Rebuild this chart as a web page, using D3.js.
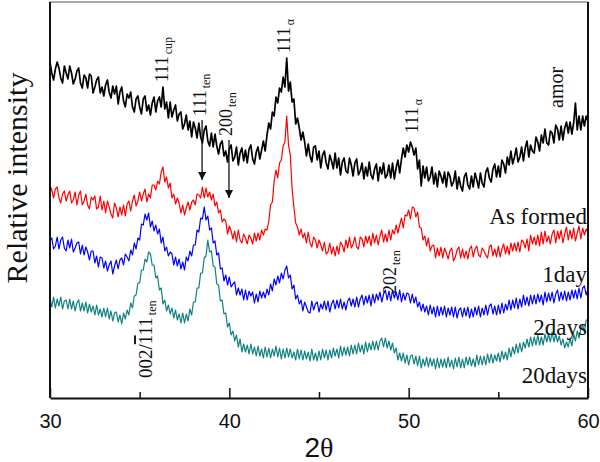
<!DOCTYPE html>
<html><head><meta charset="utf-8">
<script src="https://cdn.jsdelivr.net/npm/d3@7/dist/d3.min.js"></script>
<style>body{margin:0;background:#fff}</style>
</head><body><svg id="c" width="600" height="462"></svg>
<script>
// 2θ sampling of every pattern
const thetaStart = 30, thetaStep = 0.1;
const xTicks = [30, 40, 50, 60];
const xMinorTicks = [35, 45, 55];
const seriesNames = ["As formed", "1day", "2days", "20days"];

// relative intensities (stacked, arbitrary units)
const asFormed = [
336,325,318,329,336,330,320,315,332,325,
319,332,325,314,319,327,330,315,310,323,
320,310,324,322,305,311,318,321,305,311,
302,313,318,306,300,312,304,312,294,306,
311,297,291,304,300,306,291,286,299,302,
291,284,299,302,287,293,283,295,301,286,
297,301,291,311,289,296,280,296,281,288,
293,277,284,286,269,274,283,268,277,261,
276,270,260,275,261,255,268,272,257,252,
265,251,264,252,244,254,257,242,247,236,
249,253,237,241,251,233,245,250,237,248,
235,249,253,239,234,246,251,239,248,257,
247,263,275,269,286,282,301,295,310,306,
321,311,340,307,316,296,299,274,280,270,
258,266,256,242,254,242,236,251,252,238,
247,230,243,247,235,229,243,237,229,245,
230,240,223,236,240,227,225,240,233,222,
235,239,223,227,235,219,231,222,236,223,
219,229,234,217,231,224,235,220,223,233,
220,235,219,230,238,225,239,250,241,253,
246,256,251,243,250,229,238,212,232,220,
231,217,221,231,214,225,211,227,222,215,
226,211,226,222,212,216,227,209,221,212,
207,221,225,213,209,222,211,225,218,210,
225,215,211,226,230,220,216,229,234,221,
232,221,238,234,225,241,233,247,234,241,
250,236,241,251,237,250,257,241,253,247,
245,261,256,247,263,255,269,255,253,267,
265,255,273,269,258,272,258,270,276,265,
276,264,275,295,268,282,268,282,272,282,277];

const day1 = [
213,208,200,209,211,200,195,204,207,197,
203,207,195,198,206,193,203,207,193,197,
204,193,189,201,198,202,189,191,202,188,
197,185,197,191,184,180,195,190,181,191,
183,193,182,194,197,187,197,203,192,197,
206,197,204,209,196,204,200,213,213,208,
217,214,226,231,216,221,210,215,200,204,
194,200,195,185,193,183,190,196,188,196,
198,193,204,203,200,211,200,210,201,206,
198,204,192,196,185,188,176,179,177,164,
172,167,159,167,156,168,158,155,164,160,
154,163,160,154,165,157,165,158,168,163,
169,168,177,193,196,217,228,220,235,238,
252,256,282,253,243,209,191,175,171,163,
169,160,165,155,166,155,151,161,158,150,
158,153,147,156,144,146,155,144,151,142,
152,144,156,153,146,158,150,161,150,154,
161,151,149,161,159,151,162,155,162,152,
165,155,163,153,162,168,156,164,156,168,
158,168,164,173,165,173,180,170,183,182,
188,179,191,190,181,186,171,170,158,162,
152,160,147,152,153,140,150,142,151,140,
150,145,139,147,150,137,141,148,151,140,
149,140,147,139,149,152,141,149,152,143,
141,150,147,143,140,151,153,142,149,141,
152,141,149,154,144,152,143,155,147,155,
147,156,146,158,156,150,159,147,163,154,
161,153,163,152,166,154,167,156,162,154,
164,168,155,167,159,168,155,164,171,158,
168,159,170,157,165,172,159,170,163,169,165];

const days2 = [
157,160,149,152,161,149,158,161,150,147,
158,150,159,146,150,155,156,144,153,143,
151,146,138,147,147,135,142,131,141,140,
130,137,127,133,137,124,132,138,129,138,
140,133,144,141,137,148,143,155,149,160,
158,174,173,184,178,185,171,177,167,173,
164,169,155,161,147,151,142,146,144,133,
141,132,139,129,136,128,141,137,147,142,
153,153,168,166,180,179,191,178,182,168,
170,155,157,143,145,129,130,117,123,113,
121,111,114,116,103,110,103,109,98,108,
98,107,102,106,95,104,96,107,100,106,
100,109,103,114,107,119,113,122,115,125,
119,128,132,120,123,109,113,99,103,94,
98,87,96,91,86,85,97,88,94,96,
86,94,89,97,88,97,86,94,98,89,
98,90,99,89,96,88,97,100,92,99,
91,101,91,99,103,93,102,95,103,92,
104,95,104,98,106,96,104,108,98,107,
97,108,100,106,98,108,96,105,98,105,
104,95,104,95,101,91,96,87,94,86,
92,83,93,84,91,81,92,82,91,83,
92,81,90,83,91,81,91,80,88,90,
81,90,82,91,80,89,81,91,83,92,
81,90,83,93,83,92,94,84,92,83,
93,84,95,85,94,88,98,88,98,90,
100,89,99,91,103,93,101,92,103,94,
103,94,104,96,103,93,106,96,105,97,
106,95,104,108,97,106,98,107,97,106,
98,108,100,108,99,110,100,110,112,103,109];

const days20 = [
100,91,101,90,99,92,101,89,97,98,
89,99,89,97,87,95,98,87,95,87,
96,85,94,86,92,83,93,83,89,81,
90,81,90,79,87,77,85,86,76,83,
74,85,79,88,83,95,90,102,103,115,
115,128,128,139,136,146,144,133,133,120,
122,108,110,94,98,87,93,84,90,80,
88,78,84,75,85,75,84,77,89,83,
96,96,110,110,125,125,140,142,158,146,
147,132,131,114,113,97,98,84,85,71,
75,63,67,57,63,51,59,46,54,46,
53,44,54,44,51,42,52,42,49,40,
51,41,50,40,49,42,52,41,50,39,
49,40,50,41,49,40,46,38,49,39,
48,38,47,39,46,37,49,38,45,37,
47,38,49,40,48,38,48,40,50,42,
49,40,52,42,51,43,51,42,53,44,
53,44,55,46,53,44,56,46,55,48,
57,48,57,48,57,60,51,60,50,57,
48,55,45,50,38,45,37,45,35,43,
33,42,43,34,42,32,42,30,39,32,
41,31,40,32,39,29,40,30,39,31,
39,30,41,31,38,29,40,31,41,30,
39,30,41,33,41,32,39,31,43,33,
42,33,42,33,44,35,44,35,43,37,
45,36,47,39,46,38,50,41,51,44,
54,45,55,46,56,50,59,51,61,52,
61,53,63,53,61,53,64,56,64,56,
66,56,64,56,62,53,59,50,56,51,
60,52,64,57,67,60,69,73,66,78,78];

const seriesValues = [asFormed, day1, days2, days20];
const seriesColors = ["#000000", "#ff0000", "#0000ff", "#108080"];
const seriesLabelLevel = [174, 116, 63, 15];

// peak annotations: [text, subscript, 2θ, level]
const peakLabels = [
  ["111", "cup", 36.58, 316],
  ["111", "ten", 38.70, 282],
  ["200", "ten", 40.15, 262],
  ["111", "α", 43.39, 345],
  ["111", "α", 50.52, 265],
  ["amor", "", 58.61, 290],
  ["202", "ten", 49.30, 104]
];
const arrows = [[38.48, 278, 218], [39.98, 258, 200]];

const svg = d3.select("#c");
const W = 600, H = 462;
const x = d3.scaleLinear().domain([30, 60]).range([50, 588]);
const y = d3.scaleLinear().domain([0, 396]).range([398, 2]);
const serif = "'Liberation Serif','Times New Roman',serif";
const sans = "'Liberation Sans',Arial,sans-serif";

svg.append("rect").attr("width", W).attr("height", H).attr("fill", "#fff");

svg.append("defs").append("clipPath").attr("id", "clip")
  .append("rect").attr("x", 50).attr("y", 2).attr("width", 538).attr("height", 396);

const line = d3.line()
  .x((d, i) => x(thetaStart + i * thetaStep))
  .y(d => y(d));

const g = svg.append("g").attr("clip-path", "url(#clip)");
seriesValues.forEach((vals, k) => {
  g.append("path").datum(vals)
    .attr("d", line)
    .attr("fill", "none")
    .attr("stroke", seriesColors[k])
    .attr("stroke-width", k === 0 ? 1.7 : 1.2)
    .attr("stroke-linejoin", "round");
});

// frame
svg.append("line").attr("x1", 50).attr("x2", 588).attr("y1", 2).attr("y2", 2)
  .attr("stroke", "#555").attr("stroke-width", 1);
svg.append("line").attr("x1", 50).attr("x2", 50).attr("y1", 2).attr("y2", 398)
  .attr("stroke", "#111").attr("stroke-width", 2);
svg.append("line").attr("x1", 588).attr("x2", 588).attr("y1", 2).attr("y2", 398)
  .attr("stroke", "#111").attr("stroke-width", 2);

// x axis
const ax = svg.append("g").attr("transform", "translate(0,398)")
  .call(d3.axisBottom(x).tickValues(xTicks).tickSize(-10).tickSizeOuter(0).tickPadding(16).tickFormat(d3.format("d")));
ax.select(".domain").attr("stroke", "#111").attr("stroke-width", 2.2);
ax.selectAll(".tick line").attr("stroke", "#111").attr("stroke-width", 1.5);
ax.selectAll(".tick text").attr("font-family", sans).attr("font-size", 20).attr("fill", "#111");
const axm = svg.append("g").attr("transform", "translate(0,398)")
  .call(d3.axisBottom(x).tickValues(xMinorTicks).tickSize(-6).tickSizeOuter(0).tickFormat(""));
axm.select(".domain").remove();
axm.selectAll(".tick line").attr("stroke", "#111").attr("stroke-width", 1.5);

// axis titles
const xt = svg.append("text").attr("x", 319).attr("y", 457).attr("text-anchor", "middle")
  .attr("font-size", 28).attr("fill", "#111");
xt.append("tspan").attr("font-family", sans).text("2");
xt.append("tspan").attr("font-family", serif).text("θ");
svg.append("text").attr("transform", "translate(27,178) rotate(-90)")
  .attr("text-anchor", "middle").attr("font-family", serif).attr("font-size", 30)
  .attr("fill", "#111").text("Relative intensity");

// series labels
seriesNames.forEach((nm, k) => {
  svg.append("text").attr("x", x(60) - 1).attr("y", y(seriesLabelLevel[k]))
    .attr("text-anchor", "end").attr("font-family", serif).attr("font-size", 23)
    .attr("fill", "#111").text(nm);
});

// peak annotations (rotated)
peakLabels.forEach(([t, s, th, lv]) => {
  const tx = svg.append("text")
    .attr("transform", `translate(${x(th)},${y(lv)}) rotate(-90)`)
    .attr("font-family", serif).attr("font-size", t === "amor" ? 20 : 18).attr("fill", "#111");
  tx.append("tspan").text(t);
  if (s) tx.append("tspan").attr("font-size", 12).attr("dy", 4).attr("dx", 2).text(s);
});
// 002/-111 ten
{
  const tx = svg.append("text")
    .attr("transform", `translate(${x(35.69)},${y(20)}) rotate(-90)`)
    .attr("font-family", serif).attr("font-size", 19).attr("fill", "#111");
  tx.append("tspan").text("002/");
  tx.append("tspan").style("text-decoration", "overline").text("1");
  tx.append("tspan").text("11");
  tx.append("tspan").attr("font-size", 12).attr("dy", 4).attr("dx", 2).text("ten");
}

// arrows
svg.select("defs").append("marker").attr("id", "ah")
  .attr("viewBox", "0 0 10 10").attr("refX", 10).attr("refY", 5)
  .attr("markerWidth", 10).attr("markerHeight", 8).attr("markerUnits", "userSpaceOnUse")
  .attr("orient", "auto")
  .append("path").attr("d", "M0,0 L10,5 L0,10 Z").attr("fill", "#111");
arrows.forEach(([th, a, b]) => {
  svg.append("line").attr("x1", x(th)).attr("x2", x(th)).attr("y1", y(a)).attr("y2", y(b))
    .attr("stroke", "#111").attr("stroke-width", 1.3).attr("marker-end", "url(#ah)");
});
</script></body></html>
